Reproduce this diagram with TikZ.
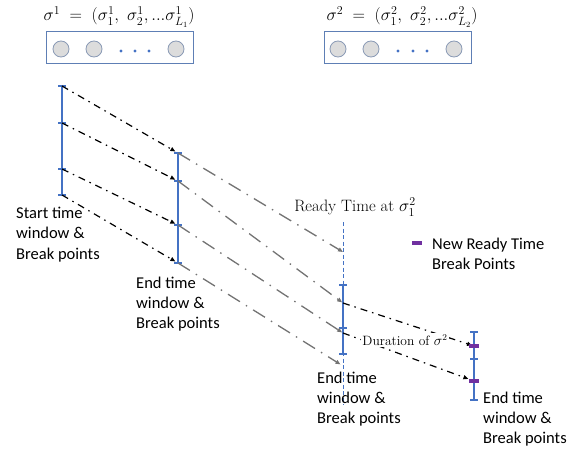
\documentclass[tikz,border=0pt]{standalone}
\usepackage{fontspec}
\newfontfamily\lblfont{Carlito}
\usetikzlibrary{arrows.meta}
\definecolor{barblue}{HTML}{4472C4}
\definecolor{boxblue}{HTML}{5E7FB5}
\definecolor{pur}{HTML}{7030A0}
\definecolor{circfill}{HTML}{DCDCDC}
\definecolor{circline}{HTML}{8A9AB5}
\definecolor{lgray}{HTML}{737373}
\begin{document}
\begin{tikzpicture}[x=1pt,y=-1pt,
  bar/.style={barblue, line width=2pt},
  tickmark/.style={barblue, line width=1.5pt},
  pmark/.style={pur, line width=4pt},
  blk/.style={black, line width=1.2pt, dash pattern=on 7pt off 5pt on 1.5pt off 5pt, -{Triangle[length=5pt,width=4pt]}},
  gry/.style={lgray, line width=1.3pt, dash pattern=on 14pt off 7pt on 1.5pt off 7pt, -{Triangle[length=5pt,width=4pt]}},
  lbl/.style={font=\lblfont\fontsize{16.5}{20.3}\selectfont, align=left, anchor=north west, inner sep=0pt},
  circ/.style={circle, draw=circline, fill=circfill, minimum size=16pt, inner sep=0pt, line width=0.8pt},
  seqbox/.style={draw=boxblue, line width=0.9pt, minimum width=147pt, minimum height=32pt, inner sep=0pt},
  ttl/.style={font=\fontsize{17}{20}\selectfont, inner sep=0pt}]
\useasboundingbox (0,0) rectangle (587,452);

% sequence boxes
\node[seqbox] (box1) at (119.5,47) {};
\node[seqbox] (box2) at (397.5,47) {};
\node[circ] (c11) at (61,49) {};
\node[circ] (c12) at (94,49) {};
\node[circ] (c13) at (176,49) {};
\node[circ] (c21) at (338,49) {};
\node[circ] (c22) at (371,49) {};
\node[circ] (c23) at (454,49) {};
\foreach \x in {121,135,149,398,413,427} \fill[barblue] (\x,51) circle (1.6);

\node[ttl] (t1) at (119,17) {$\sigma^1 \;=\; (\sigma^1_1,\ \sigma^1_2, ...\sigma^1_{L_1})$};
\node[ttl] (t2) at (402,17) {$\sigma^2 \;=\; (\sigma^2_1,\ \sigma^2_2, ...\sigma^2_{L_2})$};

% coordinates
\coordinate (s1) at (62,86);
\coordinate (s2) at (62,123);
\coordinate (s3) at (62,169);
\coordinate (s4) at (62,195);
\coordinate (e1) at (178,153);
\coordinate (e2) at (178,181);
\coordinate (e3) at (178,225);
\coordinate (e4) at (178,263);
\coordinate (r0) at (343,222);
\coordinate (rb) at (343,405);
\coordinate (ra) at (343,252);
\coordinate (f1) at (343,285);
\coordinate (f2) at (343,303);
\coordinate (f3) at (343,328);
\coordinate (f4) at (343,333);
\coordinate (f5) at (343,354);
\coordinate (f6) at (343,366);
\coordinate (g1) at (474,332);
\coordinate (g2) at (474,346);
\coordinate (g3) at (474,359);
\coordinate (g4) at (474,381);
\coordinate (g5) at (474,400);

% ready time line
\draw[barblue, line width=0.9pt, dash pattern=on 4pt off 2.5pt] (r0) -- (rb);

% bars
\draw[bar] (s1) -- (s4);
\draw[bar] (e1) -- (e4);
\draw[bar] (f1) -- (f5);
\draw[bar] (g1) -- (g5);
\foreach \p in {s1,s2,s3,s4,e1,e2,e3,e4,f1,f3,f5,g1,g3,g5}
  \draw[tickmark] (\p) ++(-4,0) -- ++(8,0);

% arrows start -> end
\draw[blk, shorten >=3pt] (s1) -- (e1);
\draw[blk, shorten >=3pt] (s2) -- (e2);
\draw[blk, shorten >=3pt] (s3) -- (e3);
\draw[blk, shorten >=3pt] (s4) -- (e4);

% grey arrows end -> ready
\draw[gry] (e1) -- (ra);
\draw[gry, shorten >=1pt] (e2) -- (f2);
\draw[gry, shorten >=1pt] (e3) -- (f4);
\draw[gry, shorten >=3pt] (e4) -- (f6);

% black arrows bar2 -> bar3
\draw[blk, shorten >=2pt] (f2) -- (g2);
\draw[blk, shorten >=6pt] (f4) -- (g4);

% purple marks
\draw[pmark] (g2) ++(-5,0) -- ++(10,0);
\draw[pmark] (g4) ++(-5,0) -- ++(10,0);

\node[fill=white, inner sep=1pt, font=\fontsize{13.5}{16}\selectfont] (dur) at (405,340) {Duration of $\sigma^2$};
\node[font=\fontsize{16.5}{20}\selectfont, inner sep=0pt] (rt) at (355,207) {Ready Time at $\sigma^2_1$};

% labels
\node[lbl] (l1) at (16,207) {Start time\\window \&\\Break points};
\node[lbl] (l2) at (136,276.5) {End time\\window \&\\Break points};
\node[lbl] (l3) at (317,371.5) {End time\\window \&\\Break points};
\node[lbl] (l4) at (483,391.5) {End time\\window \&\\Break points};

% legend
\coordinate (lg) at (417,243);
\draw[pmark] (lg) ++(-5,0) -- ++(10,0);
\node[lbl] (lt) at (432,237.5) {New Ready Time\\Break Points};
\end{tikzpicture}
\end{document}
